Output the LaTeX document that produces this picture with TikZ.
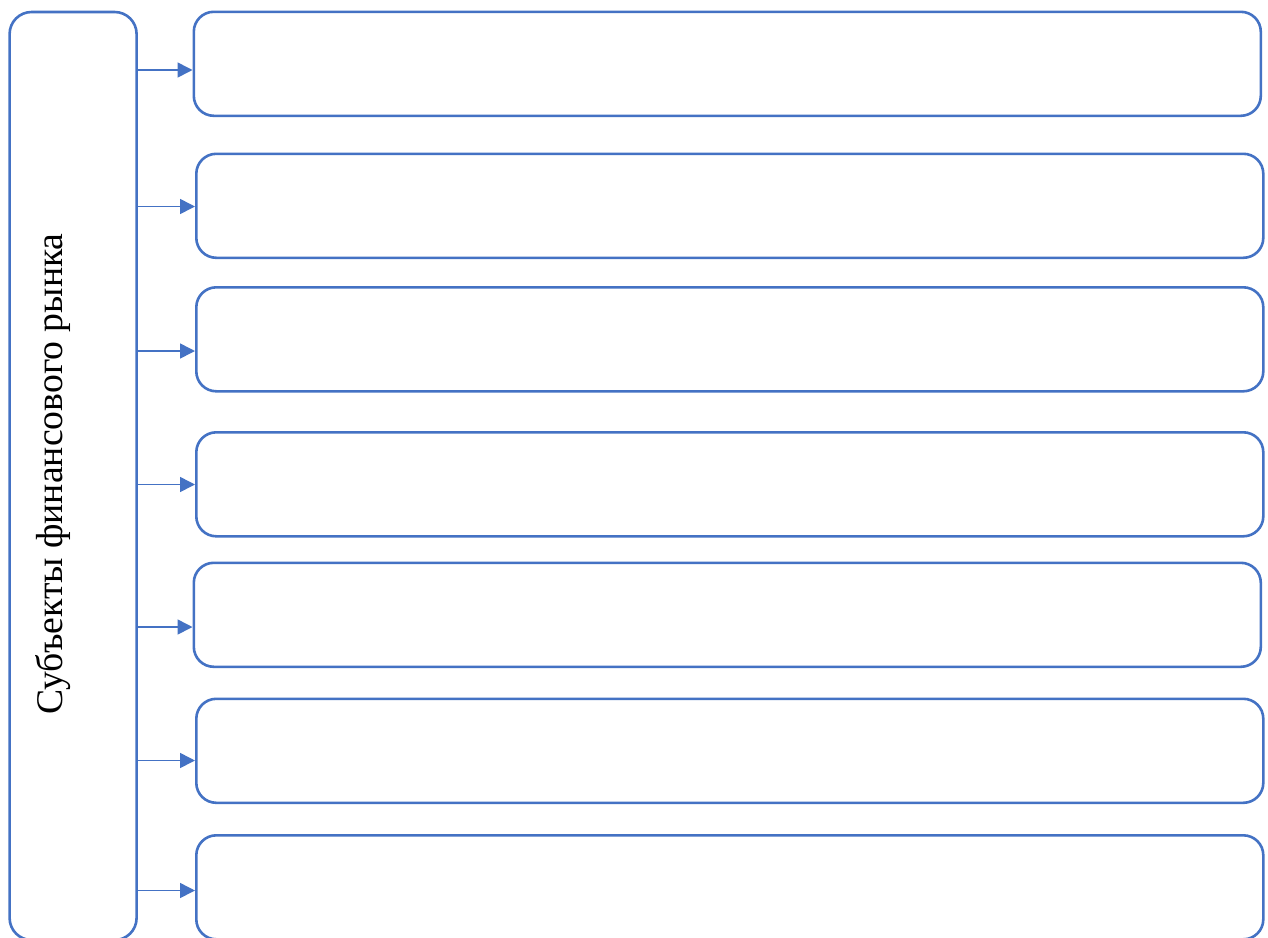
\documentclass[tikz,border=0pt]{standalone}
\usepackage{fontspec}
\setmainfont{Liberation Serif}
\usetikzlibrary{arrows.meta}
\definecolor{accent}{HTML}{4472C4}
\begin{document}
\begin{tikzpicture}[x=1pt,y=-1pt,
  box/.style={draw=accent, line width=2.6pt, rounded corners=20pt, inner sep=0pt, anchor=north west, minimum width=1067pt, minimum height=104pt},
  mainbox/.style={draw=accent, line width=2.6pt, rounded corners=22pt, inner sep=0pt, anchor=north west, minimum width=127pt, minimum height=928pt},
  arr/.style={draw=accent, line width=1.6pt, -{Triangle[length=15pt,width=15pt]}}]
\useasboundingbox (0,0) rectangle (1268,937);
\clip (0,0) rectangle (1268,937);
\fill[white] (0,0) rectangle (1268,937);
\node[mainbox] (main) at (8.3,10.7) {};
\node[rotate=90, anchor=base, font=\fontsize{37.7}{45}\selectfont] (title) at (62.5,474) {Субъекты финансового рынка};
\node[box] (b1) at (192.5,10.5) {};
\node[box] (b2) at (195,152.5) {};
\node[box] (b3) at (195,286) {};
\node[box] (b4) at (195,431) {};
\node[box] (b5) at (192.5,561.5) {};
\node[box] (b6) at (195,697.5) {};
\node[box] (b7) at (195,834) {};
\draw[arr] (main.east |- 0,70) -- (b1.west |- 0,70);
\draw[arr] (main.east |- 0,206.5) -- (b2.west |- 0,206.5);
\draw[arr] (main.east |- 0,351) -- (b3.west |- 0,351);
\draw[arr] (main.east |- 0,484.5) -- (b4.west |- 0,484.5);
\draw[arr] (main.east |- 0,627) -- (b5.west |- 0,627);
\draw[arr] (main.east |- 0,760.5) -- (b6.west |- 0,760.5);
\draw[arr] (main.east |- 0,890.5) -- (b7.west |- 0,890.5);
\end{tikzpicture}
\end{document}
